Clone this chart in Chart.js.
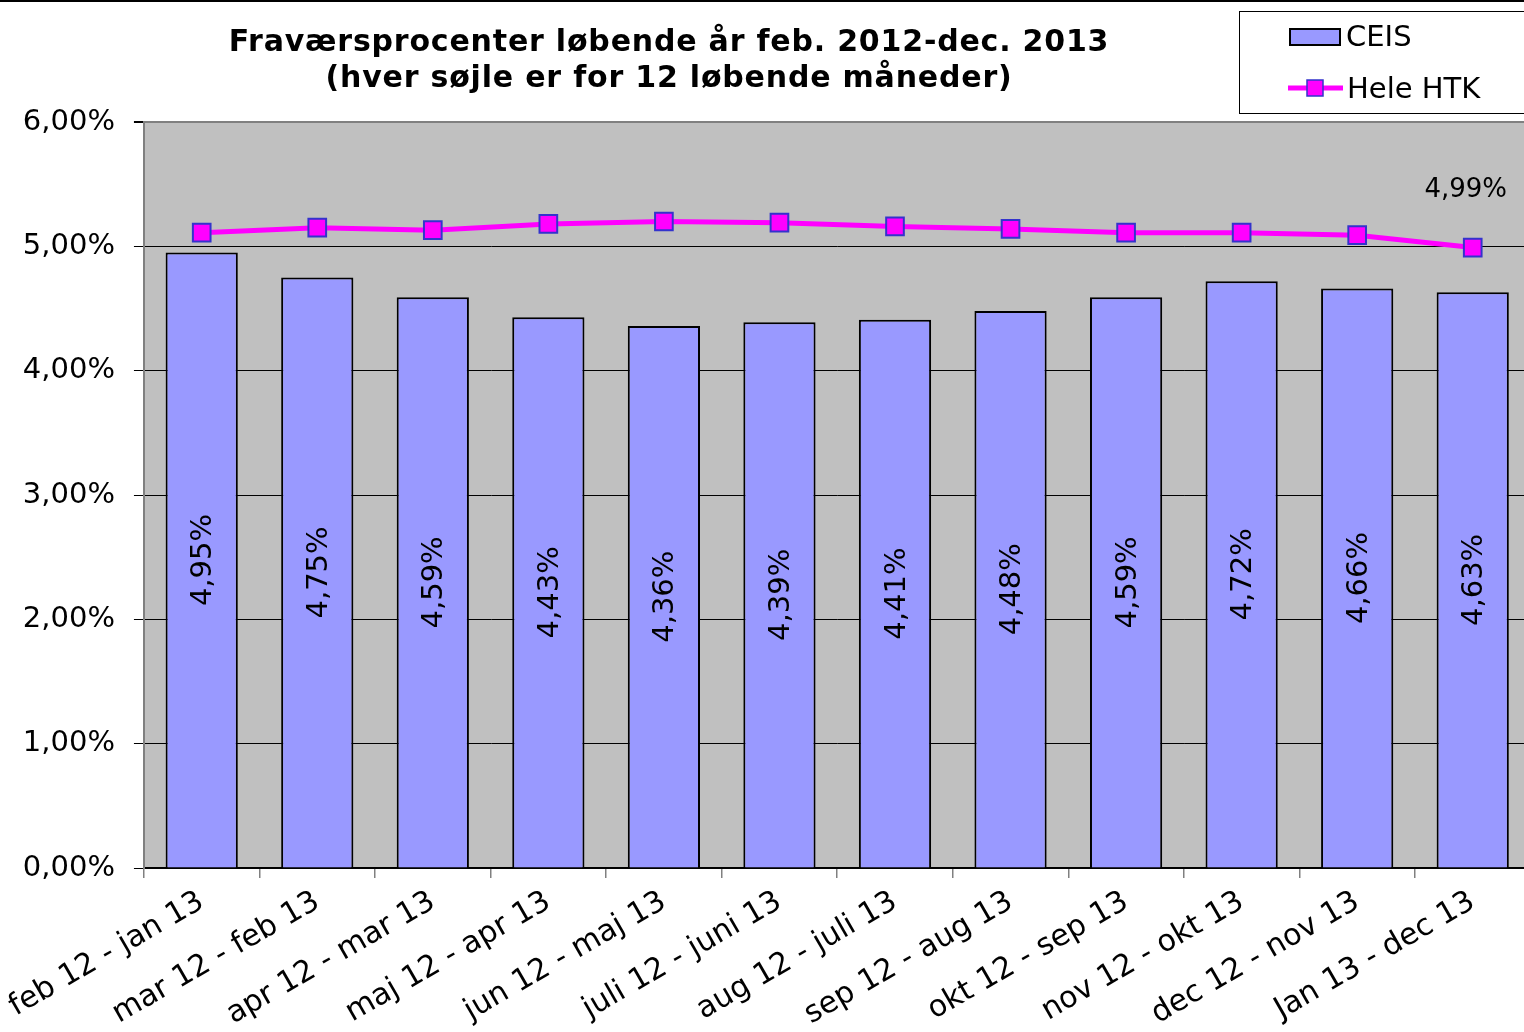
<!DOCTYPE html>
<html>
<head>
<meta charset="utf-8">
<script src="https://cdn.jsdelivr.net/npm/chart.js@4/dist/chart.umd.min.js"></script>
<style>
html,body{margin:0;padding:0;background:#fff;overflow:hidden;width:1524px;height:1032px;}
#wrap{width:1545px;height:1032px;position:relative;}
canvas{display:block;}
</style>
</head>
<body>
<div id="wrap"><canvas id="c" width="1545" height="1032"></canvas></div>
<script>
const titleLines = ["Fraværsprocenter løbende år feb. 2012-dec. 2013", "(hver søjle er for 12 løbende måneder)"];
const categories = ["feb 12 - jan 13","mar 12 - feb 13","apr 12 - mar 13","maj 12 - apr 13","jun 12 - maj 13","juli 12 - juni 13","aug 12 - juli 13","sep 12 - aug 13","okt 12 - sep 13","nov 12 - okt 13","dec 12 - nov 13","Jan 13 - dec 13"];
const ceisValues = [4.95,4.75,4.59,4.43,4.36,4.39,4.41,4.48,4.59,4.72,4.66,4.63];
const htkValues = [5.11,5.15,5.13,5.18,5.20,5.19,5.16,5.14,5.11,5.11,5.09,4.99];
const seriesNames = ["CEIS","Hele HTK"];
const htkLabelIndices = [11];
const yTicks = [0,1,2,3,4,5,6];

const FONT = "'DejaVu Sans', Verdana, sans-serif";
const fmt = v => v.toFixed(2).replace('.', ',') + '%';

const decorPlugin = {
  id: 'decor',
  beforeDraw(chart) {
    const {ctx, chartArea: a} = chart;
    ctx.save();
    ctx.fillStyle = '#C0C0C0';
    ctx.fillRect(a.left, a.top, a.right - a.left, a.bottom - a.top);
    ctx.restore();
  },
  afterDatasetsDraw(chart) {
    const ctx = chart.ctx;
    const barMeta = chart.getDatasetMeta(0);
    ctx.save();
    ctx.fillStyle = '#000';
    ctx.font = '29px ' + FONT;
    ctx.textAlign = 'center';
    ctx.textBaseline = 'middle';
    barMeta.data.forEach((bar, i) => {
      const cy = (bar.y + bar.base) / 2;
      ctx.save();
      ctx.translate(bar.x + 2, cy);
      ctx.rotate(-Math.PI / 2);
      ctx.fillText(fmt(ceisValues[i]), 0, 0);
      ctx.restore();
    });
    const lineMeta = chart.getDatasetMeta(1);
    ctx.font = '26px ' + FONT;
    htkLabelIndices.forEach(i => {
      const p = lineMeta.data[i];
      ctx.fillText(fmt(htkValues[i]), p.x - 7, p.y - 57);
    });
    ctx.restore();
  },
  afterDraw(chart) {
    const ctx = chart.ctx;
    ctx.save();
    ctx.fillStyle = '#000';
    ctx.fillRect(0, 0, chart.width, 2);
    ctx.fillStyle = '#000';
    ctx.font = 'bold 30px ' + FONT;
    try { ctx.letterSpacing = '0.8px'; } catch (e) {}
    ctx.textAlign = 'center';
    ctx.textBaseline = 'alphabetic';
    ctx.fillText(titleLines[0], 669, 51);
    ctx.fillText(titleLines[1], 669, 87);
    try { ctx.letterSpacing = '0px'; } catch (e) {}
    ctx.fillStyle = '#fff';
    ctx.fillRect(1239.5, 11.5, 320, 102);
    ctx.strokeStyle = '#000';
    ctx.lineWidth = 1;
    ctx.strokeRect(1239.5, 11.5, 320, 102);
    ctx.fillStyle = '#9999FF';
    ctx.fillRect(1290, 29, 50, 16);
    ctx.lineWidth = 2;
    ctx.strokeRect(1290, 29, 50, 16);
    ctx.strokeStyle = '#FF00FF';
    ctx.lineWidth = 5;
    ctx.beginPath();
    ctx.moveTo(1288, 88);
    ctx.lineTo(1343, 88);
    ctx.stroke();
    ctx.fillStyle = '#FF00FF';
    ctx.fillRect(1307, 80, 16, 16);
    ctx.strokeStyle = '#3333CC';
    ctx.lineWidth = 1.5;
    ctx.strokeRect(1307, 80, 16, 16);
    ctx.fillStyle = '#000';
    ctx.font = '29px ' + FONT;
    ctx.textAlign = 'left';
    ctx.textBaseline = 'middle';
    ctx.fillText(seriesNames[0], 1346, 38);
    ctx.fillText(seriesNames[1], 1347, 90);
    ctx.restore();
  }
};

new Chart(document.getElementById('c'), {
  data: {
    labels: categories,
    datasets: [
      {
        type: 'bar',
        label: seriesNames[0],
        data: ceisValues,
        backgroundColor: '#9999FF',
        borderColor: '#000',
        borderWidth: 2,
        barPercentage: 0.625,
        categoryPercentage: 1,
        order: 2
      },
      {
        type: 'line',
        label: seriesNames[1],
        data: htkValues,
        borderColor: '#FF00FF',
        borderWidth: 5,
        tension: 0,
        pointStyle: 'rect',
        pointRadius: 12.5,
        pointBackgroundColor: '#FF00FF',
        pointBorderColor: '#3333CC',
        pointBorderWidth: 2,
        order: 1
      }
    ]
  },
  options: {
    responsive: false,
    animation: false,
    layout: { padding: { top: 122, right: 0, left: 0, bottom: 0 } },
    plugins: {
      legend: { display: false },
      title: { display: false },
      tooltip: { enabled: false }
    },
    scales: {
      x: {
        offset: true,
        grid: {
          offset: true,
          drawOnChartArea: false,
          drawTicks: true,
          tickLength: 10,
          color: '#808080',
          lineWidth: 1.5
        },
        border: { display: true, color: '#000', width: 2 },
        ticks: {
          color: '#000',
          font: { family: FONT, size: 30 },
          minRotation: 30,
          maxRotation: 30,
          padding: 6,
          autoSkip: false
        },
        afterFit(scale) { scale.height = 1032 - 868; }
      },
      y: {
        min: 0,
        max: 6,
        afterBuildTicks(scale) { scale.ticks = yTicks.map(v => ({ value: v })); },
        grid: {
          color: ctx => (ctx.tick && ctx.tick.value === 6) ? '#808080' : '#000',
          lineWidth: ctx => (ctx.tick && ctx.tick.value === 6) ? 2 : 1,
          tickColor: '#000',
          tickLength: 10,
          drawTicks: true
        },
        border: { display: true, color: '#808080', width: 2 },
        ticks: {
          color: '#000',
          font: { family: FONT, size: 29 },
          padding: 19,
          callback: v => fmt(v)
        },
        afterFit(scale) { scale.width = 143; }
      }
    }
  },
  plugins: [decorPlugin]
});
</script>
</body>
</html>
